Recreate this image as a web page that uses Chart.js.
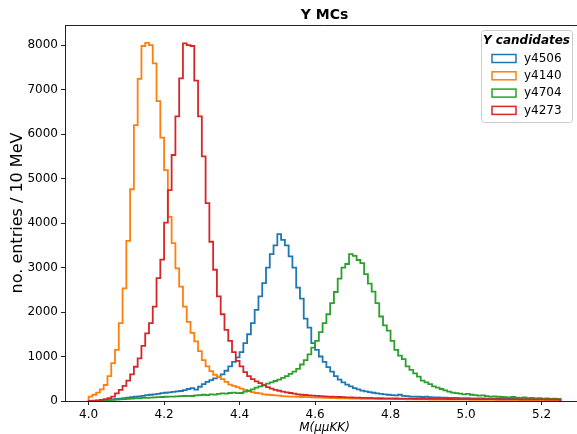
<!DOCTYPE html>
<html>
<head>
<meta charset="utf-8">
<script src="https://cdn.jsdelivr.net/npm/chart.js@4.4.0/dist/chart.umd.min.js"></script>
<style>
  html, body { margin: 0; padding: 0; background: #fff; overflow: hidden; }
  #wrap { width: 584px; height: 434px; }
</style>
</head>
<body>
<div id="wrap"><canvas id="histChart" width="584" height="434"></canvas></div>
<script>
// 10 MeV bins from 4.00 to 5.25 GeV
const binStart = 4.0;
const binWidth = 0.01;

const xTicks = [4.0, 4.2, 4.4, 4.6, 4.8, 5.0, 5.2];
const yTicks = [0, 1000, 2000, 3000, 4000, 5000, 6000, 7000, 8000];

const seriesNames = ['y4506', 'y4140', 'y4704', 'y4273'];
const seriesColors = ['#1f77b4', '#ff7f0e', '#2ca02c', '#d62728'];

// entries per bin
const y4506 = [
  0, 2, 5, 10, 15, 25, 35, 45, 55, 65,
  75, 85, 95, 105, 115, 130, 140, 150, 160, 175,
  185, 195, 205, 215, 225, 245, 270, 290, 255, 320,
  380, 430, 470, 510, 550, 600, 680, 780, 880, 980,
  1100, 1300, 1500, 1750, 2050, 2350, 2650, 3000, 3300, 3500,
  3750, 3620, 3500, 3250, 3000, 2550, 2300, 1850, 1650, 1300,
  1150, 1000, 880, 760, 660, 560, 480, 420, 370, 330,
  290, 260, 235, 215, 200, 185, 170, 160, 150, 140,
  130, 125, 140, 115, 110, 100, 98, 95, 90, 96,
  85, 82, 80, 78, 75, 72, 70, 68, 66, 64,
  62, 60, 58, 57, 56, 55, 54, 52, 50, 50,
  48, 47, 46, 45, 44, 43, 42, 41, 40, 40,
  39, 38, 38, 37, 36
];

const y4140 = [
  100, 140, 190, 260, 360, 560, 850, 1150, 1750, 2530,
  3600, 4760, 6200, 7240, 7980, 8050, 8000, 7590, 6740, 5920,
  5190, 4140, 3550, 2980, 2570, 2120, 1780, 1530, 1340, 1120,
  920, 780, 670, 590, 540, 490, 430, 370, 340, 310,
  280, 250, 220, 200, 180, 170, 150, 140, 135, 125,
  120, 110, 105, 100, 100, 95, 90, 85, 85, 80,
  75, 75, 70, 70, 65, 65, 60, 60, 60, 55,
  55, 55, 50, 50, 50, 48, 45, 45, 45, 42,
  42, 40, 40, 40, 38, 38, 36, 36, 35, 35,
  34, 33, 33, 32, 32, 31, 30, 30, 30, 29,
  29, 28, 28, 27, 27, 26, 26, 26, 25, 25,
  25, 24, 24, 24, 23, 23, 23, 22, 22, 22,
  21, 21, 21, 20, 20
];

const y4704 = [
  0, 5, 8, 12, 18, 22, 28, 32, 38, 42,
  48, 52, 58, 62, 68, 72, 78, 82, 85, 90,
  95, 98, 100, 105, 108, 112, 115, 112, 125, 130,
  140, 130, 150, 145, 160, 170, 165, 180, 190, 175,
  180, 210, 230, 260, 300, 330, 360, 390, 420, 450,
  480, 520, 560, 610, 660, 720, 820, 920, 1050, 1200,
  1350, 1550, 1750, 1950, 2200, 2450, 2750, 3000, 3080, 3300,
  3260, 3170, 3100, 2850, 2640, 2460, 2200, 1900, 1700, 1580,
  1350, 1150, 1020, 940, 780, 700, 620, 550, 460, 420,
  380, 330, 300, 270, 240, 210, 190, 175, 165, 150,
  160, 140, 130, 120, 125, 110, 100, 105, 95, 90,
  85, 80, 90, 75, 70, 80, 65, 70, 60, 65,
  55, 60, 50, 55, 45
];

const y4273 = [
  5, 10, 15, 25, 40, 65, 100, 170, 250, 340,
  460, 600, 770, 960, 1240, 1520, 1750, 2120, 2760, 3180,
  4010, 4740, 5530, 6400, 7250, 8040, 8000, 7980, 7200, 6400,
  5500, 4450, 3580, 2950, 2350, 1950, 1600, 1350, 1100, 900,
  780, 650, 560, 490, 440, 400, 350, 310, 280, 250,
  230, 210, 195, 180, 165, 150, 140, 135, 125, 120,
  115, 110, 105, 100, 95, 92, 90, 85, 82, 80,
  78, 75, 72, 70, 68, 66, 64, 62, 60, 58,
  57, 56, 55, 54, 53, 52, 51, 50, 50, 49,
  48, 48, 47, 46, 46, 45, 45, 44, 44, 43,
  43, 42, 42, 41, 41, 40, 40, 40, 39, 39,
  38, 38, 38, 37, 37, 36, 36, 36, 35, 35,
  35, 34, 34, 34, 33
];

const fontFamily = '"DejaVu Sans", sans-serif';

// step outline like matplotlib histtype='step': baseline -> bins -> baseline
function toSteps(counts) {
  const pts = [{ x: binStart, y: 0 }];
  counts.forEach((c, i) => {
    pts.push({ x: +(binStart + i * binWidth).toFixed(2), y: c });
  });
  pts.push({ x: +(binStart + counts.length * binWidth).toFixed(2), y: 0 });
  return pts;
}

const allCounts = [y4506, y4140, y4704, y4273];

const datasets = allCounts.map((counts, i) => ({
  label: seriesNames[i],
  data: toSteps(counts),
  borderColor: seriesColors[i],
  borderWidth: 1.8,
  fill: false,
  stepped: true,
  pointRadius: 0,
  order: allCounts.length - i, // later series drawn on top
}));

const framePlugin = {
  id: 'framePlugin',
  afterDraw(chart) {
    const { ctx, chartArea } = chart;
    ctx.save();
    // top and right spines
    ctx.strokeStyle = '#222';
    ctx.lineWidth = 1;
    ctx.beginPath();
    ctx.moveTo(chartArea.left, chartArea.top + 0.5);
    ctx.lineTo(chartArea.right - 0.5, chartArea.top + 0.5);
    ctx.lineTo(chartArea.right - 0.5, chartArea.bottom);
    ctx.stroke();

    // title centred over the axes
    ctx.fillStyle = '#000';
    ctx.font = 'bold 14px ' + fontFamily;
    ctx.textAlign = 'center';
    ctx.textBaseline = 'middle';
    ctx.fillText('Y MCs', (chartArea.left + chartArea.right) / 2, 15);

    // legend box in the upper right corner
    const boxW = 91;
    const boxH = 92;
    const boxX = chartArea.right - 12 - boxW;
    const boxY = chartArea.top + 5;
    ctx.fillStyle = 'rgba(255,255,255,0.8)';
    ctx.strokeStyle = '#cccccc';
    ctx.lineWidth = 1;
    ctx.beginPath();
    ctx.roundRect(boxX + 0.5, boxY + 0.5, boxW, boxH, 3);
    ctx.fill();
    ctx.stroke();

    ctx.fillStyle = '#000';
    ctx.font = 'italic bold 12px ' + fontFamily;
    ctx.textAlign = 'center';
    ctx.fillText('Y candidates', boxX + boxW / 2, boxY + 11);

    ctx.font = '12px ' + fontFamily;
    ctx.textAlign = 'left';
    seriesNames.forEach((name, i) => {
      const cy = boxY + 28.5 + i * 17.3;
      ctx.strokeStyle = seriesColors[i];
      ctx.lineWidth = 1.5;
      ctx.strokeRect(boxX + 11, cy - 4, 24, 8);
      ctx.fillStyle = '#000';
      ctx.fillText(name, boxX + 43, cy);
    });
    ctx.restore();
  },
};

const histChart = new Chart(document.getElementById('histChart'), {
  type: 'line',
  data: { datasets },
  options: {
    responsive: false,
    animation: false,
    devicePixelRatio: 1,
    layout: { padding: { top: 25, right: 0, bottom: 0, left: 0 } },
    plugins: {
      legend: { display: false },
      title: { display: false },
      tooltip: { enabled: false },
    },
    scales: {
      x: {
        type: 'linear',
        min: 3.9375,
        max: 5.3125,
        afterFit: (scale) => { scale.height = 33; },
        afterBuildTicks: (scale) => { scale.ticks = xTicks.map((v) => ({ value: v })); },
        ticks: {
          color: '#000',
          font: { family: fontFamily, size: 12 },
          padding: 3,
          maxRotation: 0,
          autoSkip: false,
          callback: (v) => Number(v).toFixed(1),
        },
        grid: { drawOnChartArea: false, drawTicks: true, tickLength: 4, color: '#222' },
        border: { display: true, color: '#222', width: 1 },
        title: {
          display: true,
          text: 'M(μμKK)',
          color: '#000',
          font: { family: fontFamily, size: 12, style: 'italic', lineHeight: 1 },
          padding: 0,
        },
      },
      y: {
        type: 'linear',
        min: 0,
        max: 8452,
        afterFit: (scale) => { scale.width = 65; },
        afterBuildTicks: (scale) => { scale.ticks = yTicks.map((v) => ({ value: v })); },
        ticks: {
          color: '#000',
          font: { family: fontFamily, size: 12 },
          padding: 3,
          autoSkip: false,
          callback: (v) => String(v),
        },
        grid: { drawOnChartArea: false, drawTicks: true, tickLength: 4, color: '#222' },
        border: { display: true, color: '#222', width: 1 },
        title: {
          display: true,
          text: 'no. entries / 10 MeV',
          color: '#000',
          font: { family: fontFamily, size: 16, lineHeight: 1.2 },
          padding: { top: 8, bottom: 0 },
        },
      },
    },
  },
  plugins: [framePlugin],
});
</script>
</body>
</html>
